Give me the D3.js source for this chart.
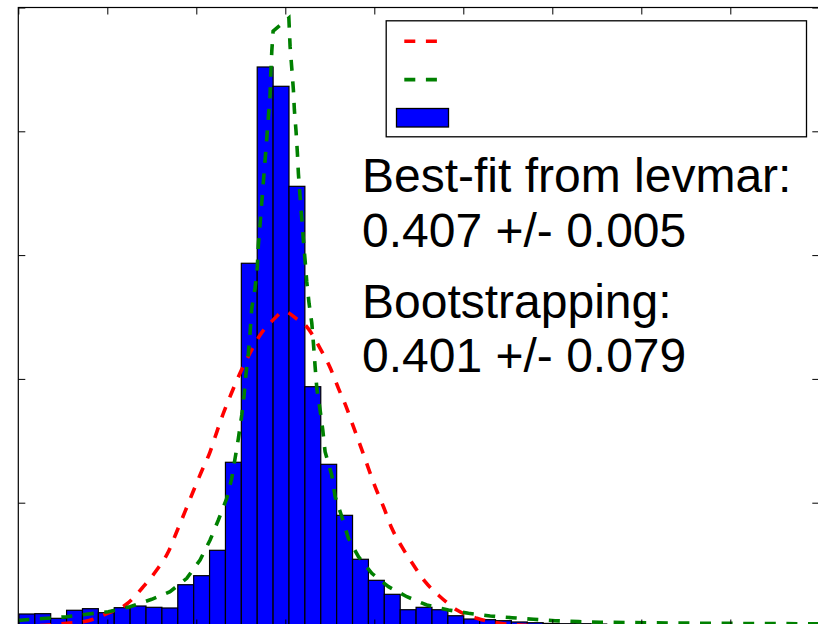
<!DOCTYPE html>
<html>
<head>
<meta charset="utf-8">
<script src="https://cdn.jsdelivr.net/npm/d3@7"></script>
<style>
  html, body { margin: 0; padding: 0; background: #ffffff; }
  svg { display: block; }
</style>
</head>
<body>
<svg id="chart" width="818" height="624"></svg>
<script>
// Tick positions (labels are not shown)
const xTicks = [0.1, 0.2, 0.3, 0.4, 0.5, 0.6, 0.7, 0.8, 0.9, 1.0];
const yTicks = [0, 2, 4, 6, 8, 10];

// Normalised histogram of the bootstrapped parameter
const binStart = 0.1007;
const binWidth = 0.01785;
const histDensity = [
  0.202, 0.207, 0.132, 0.262, 0.288, 0.223, 0.304, 0.331, 0.310, 0.299,
  0.675, 0.821, 1.231, 2.653, 5.868, 9.039, 8.727, 7.111, 3.874, 2.620,
  1.796, 1.086, 0.746, 0.520, 0.271, 0.310, 0.271, 0.174, 0.121, 0.110,
  0.094, 0.073, 0.061, 0.050, 0.045, 0.045, 0.040
];

// Gaussian from the bootstrap estimate (red)
const redX = [0.100, 0.130, 0.1544, 0.1786, 0.2008, 0.2218, 0.2405, 0.2555, 0.2686, 0.2780,
  0.2873, 0.2967, 0.3061, 0.3154, 0.3211, 0.3301, 0.3391, 0.3492, 0.3604, 0.3717,
  0.3863, 0.3987, 0.4129, 0.4241, 0.4391, 0.4503, 0.4597, 0.4691, 0.4765, 0.4841,
  0.4934, 0.5009, 0.5103, 0.5197, 0.5309, 0.5440, 0.5571, 0.5740, 0.5928, 0.6152,
  0.6414, 0.6752, 0.7089, 0.80, 1.00];
const redY = [0.003, 0.021, 0.052, 0.094, 0.218, 0.363, 0.643, 0.913, 1.208, 1.531,
  1.855, 2.189, 2.512, 2.819, 3.061, 3.433, 3.756, 4.095, 4.418, 4.709,
  4.952, 5.089, 4.968, 4.843, 4.494, 4.184, 3.848, 3.525, 3.228, 2.932,
  2.556, 2.259, 1.935, 1.586, 1.289, 0.994, 0.724, 0.481, 0.267, 0.132,
  0.052, 0.016, 0.003, 0.000, 0.000];

// Distribution from the levmar best fit (green)
const greenX = [0.100, 0.1056, 0.1319, 0.1544, 0.1786, 0.2011, 0.2255, 0.2499, 0.2705, 0.2893,
  0.3042, 0.3155, 0.3248, 0.3342, 0.3398, 0.3436, 0.3473, 0.3511, 0.3537, 0.3559,
  0.3585, 0.3604, 0.3623, 0.3660, 0.3686, 0.3697, 0.3717, 0.3736, 0.3754, 0.3773,
  0.3792, 0.3810, 0.3829, 0.3837, 0.3848, 0.3863, 0.4040, 0.4054, 0.4073, 0.4091,
  0.4102, 0.4121, 0.4136, 0.4147, 0.4166, 0.4185, 0.4203, 0.4222, 0.4241, 0.4267,
  0.4298, 0.4316, 0.4335, 0.4354, 0.4391, 0.4421, 0.4447, 0.4522, 0.4560, 0.4635,
  0.4709, 0.4822, 0.4972, 0.5159, 0.5366, 0.5590, 0.5833, 0.6058, 0.6302, 0.6546,
  0.6789, 0.7033, 0.7295, 0.7538, 0.8100, 0.8662, 0.9224, 1.000];
const greenY = [0.097, 0.105, 0.132, 0.158, 0.202, 0.239, 0.320, 0.439, 0.562, 0.779,
  1.074, 1.397, 1.721, 2.071, 2.394, 2.717, 3.040, 3.417, 3.740, 4.090,
  4.414, 4.737, 5.141, 5.464, 5.813, 6.163, 6.514, 6.863, 7.186, 7.536,
  7.887, 8.236, 8.586, 8.937, 9.286, 9.620, 9.830, 9.367, 9.018, 8.667,
  8.344, 7.994, 7.645, 7.321, 6.943, 6.594, 6.244, 5.921, 5.570, 5.221,
  4.898, 4.575, 4.197, 3.848, 3.498, 3.174, 2.824, 2.447, 2.097, 1.774,
  1.425, 1.128, 0.859, 0.643, 0.481, 0.347, 0.267, 0.213, 0.170, 0.142,
  0.116, 0.094, 0.078, 0.069, 0.060, 0.053, 0.048, 0.044];

const annotationLines = [
  "Best-fit from levmar:",
  "0.407 +/- 0.005",
  "Bootstrapping:",
  "0.401 +/- 0.079"
];

const svg = d3.select("#chart");
const plot = { left: 18.3, right: 819.3, top: 7.5, bottom: 626.5 };

const x = d3.scaleLinear().domain([0.1, 1.0]).range([plot.left, plot.right]);
const y = d3.scaleLinear().domain([0, 10]).range([plot.bottom, plot.top]);

svg.append("defs").append("clipPath").attr("id", "plot-clip")
  .append("rect")
  .attr("x", plot.left).attr("y", plot.top)
  .attr("width", plot.right - plot.left).attr("height", plot.bottom - plot.top);

const inner = svg.append("g").attr("clip-path", "url(#plot-clip)");

// Histogram bars
const bins = histDensity.map((d, i) => ({
  x0: binStart + i * binWidth,
  x1: binStart + (i + 1) * binWidth,
  value: d
}));
inner.append("g").selectAll("rect").data(bins).join("rect")
  .attr("x", d => x(d.x0))
  .attr("width", d => x(d.x1) - x(d.x0))
  .attr("y", d => y(d.value))
  .attr("height", d => y(0) - y(d.value))
  .attr("fill", "#0000ff")
  .attr("stroke", "#000000")
  .attr("stroke-width", 1.2);

const line = d3.line().x(d => x(d[0])).y(d => y(d[1]));
const dash = "11,10.6";

inner.append("path")
  .datum(d3.zip(redX, redY))
  .attr("d", line.curve(d3.curveMonotoneX))
  .attr("fill", "none")
  .attr("stroke", "#ff0000")
  .attr("stroke-width", 3.6)
  .attr("stroke-dasharray", dash);

inner.append("path")
  .datum(d3.zip(greenX, greenY))
  .attr("d", line.curve(d3.curveLinear))
  .attr("fill", "none")
  .attr("stroke", "#008000")
  .attr("stroke-width", 3.6)
  .attr("stroke-dasharray", dash);

// Ticks on all four sides, pointing inward, no labels
const tickLen = 7;
function styleAxis(g) {
  g.select(".domain").remove();
  g.selectAll(".tick line").attr("stroke", "#000").attr("stroke-width", 1);
  g.selectAll(".tick text").remove();
}
svg.append("g").attr("transform", `translate(0,${plot.bottom})`)
  .call(d3.axisBottom(x).tickValues(xTicks).tickSizeInner(-tickLen).tickSizeOuter(0).tickFormat(""))
  .call(styleAxis);
svg.append("g").attr("transform", `translate(0,${plot.top})`)
  .call(d3.axisTop(x).tickValues(xTicks).tickSizeInner(-tickLen).tickSizeOuter(0).tickFormat(""))
  .call(styleAxis);
svg.append("g").attr("transform", `translate(${plot.left},0)`)
  .call(d3.axisLeft(y).tickValues(yTicks).tickSizeInner(-tickLen).tickSizeOuter(0).tickFormat(""))
  .call(styleAxis);
svg.append("g").attr("transform", `translate(${plot.right},0)`)
  .call(d3.axisRight(y).tickValues(yTicks).tickSizeInner(-tickLen).tickSizeOuter(0).tickFormat(""))
  .call(styleAxis);

// Axes frame
svg.append("rect")
  .attr("x", plot.left).attr("y", plot.top)
  .attr("width", plot.right - plot.left).attr("height", plot.bottom - plot.top)
  .attr("fill", "none").attr("stroke", "#000").attr("stroke-width", 1.2);

// Annotation text
const textBaselines = [192, 247, 318, 372];
svg.append("g").selectAll("text").data(annotationLines).join("text")
  .attr("x", 362)
  .attr("y", (d, i) => textBaselines[i])
  .attr("font-family", "'Liberation Sans', Arial, sans-serif")
  .attr("font-size", 48)
  .attr("fill", "#000")
  .text(d => d);

// Legend (entries without labels)
const legend = svg.append("g");
legend.append("rect")
  .attr("x", 386.2).attr("y", 20.8).attr("width", 420.3).attr("height", 116)
  .attr("fill", "#fff").attr("stroke", "#000").attr("stroke-width", 1.3);
[["#ff0000", 41.3], ["#008000", 79.6]].forEach(([c, ly]) => {
  legend.append("line")
    .attr("x1", 404.3).attr("x2", 437).attr("y1", ly).attr("y2", ly)
    .attr("stroke", c).attr("stroke-width", 3.6).attr("stroke-dasharray", dash);
});
legend.append("rect")
  .attr("x", 396.5).attr("y", 108.5).attr("width", 52).attr("height", 18.5)
  .attr("fill", "#0000ff").attr("stroke", "#000").attr("stroke-width", 1.3);
</script>
</body>
</html>
